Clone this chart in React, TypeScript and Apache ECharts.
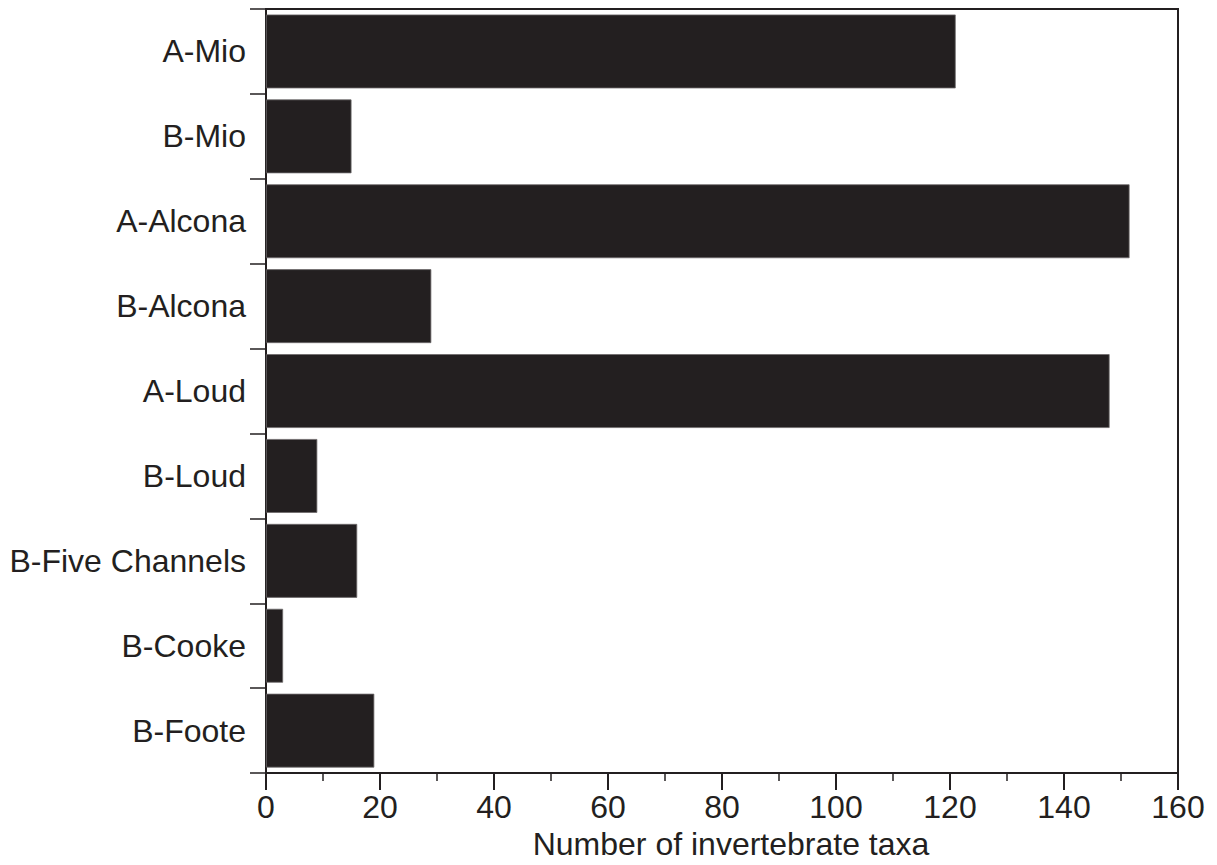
import React, { useEffect, useRef } from "react";
import * as echarts from "echarts";

const categories = [
  "A-Mio",
  "B-Mio",
  "A-Alcona",
  "B-Alcona",
  "A-Loud",
  "B-Loud",
  "B-Five Channels",
  "B-Cooke",
  "B-Foote",
];
const taxaCounts = [121, 15, 151.5, 29, 148, 9, 16, 3, 19];
const xTicks = { min: 0, max: 160, interval: 20 };
const xTitle = "Number of invertebrate taxa";

const INK = "#231f20";
const FONT = "'Liberation Sans', Arial, Helvetica, sans-serif";

export default function App() {
  const ref = useRef<HTMLDivElement>(null);
  useEffect(() => {
    if (!ref.current) return;
    const chart = echarts.init(ref.current, null, { renderer: "svg" });
    chart.setOption({
      animation: false,
      backgroundColor: "#ffffff",
      grid: {
        left: 266,
        right: 39,
        top: 9,
        bottom: 88,
        show: true,
        borderColor: INK,
        borderWidth: 2,
        containLabel: false,
      },
      xAxis: {
        type: "value",
        min: xTicks.min,
        max: xTicks.max,
        interval: xTicks.interval,
        name: xTitle,
        nameLocation: "middle",
        nameGap: 48,
        nameTextStyle: {
          color: INK,
          fontFamily: FONT,
          fontSize: 32,
          padding: [0, 0, 0, 18],
        },
        axisLine: { show: true, lineStyle: { color: INK, width: 2 } },
        axisTick: { show: true, length: 17, lineStyle: { color: INK, width: 2 } },
        minorTick: { show: true, splitNumber: 2, length: 8, lineStyle: { color: INK, width: 1.5 } },
        splitLine: { show: false },
        minorSplitLine: { show: false },
        axisLabel: { color: INK, fontFamily: FONT, fontSize: 32, margin: 18 },
      },
      yAxis: {
        type: "category",
        data: categories,
        inverse: true,
        axisLine: { show: true, lineStyle: { color: INK, width: 2 } },
        axisTick: { show: true, length: 16, lineStyle: { color: INK, width: 1.5 } },
        splitLine: { show: false },
        axisLabel: { color: INK, fontFamily: FONT, fontSize: 32, margin: 20 },
      },
      series: [
        {
          type: "bar",
          data: taxaCounts,
          barCategoryGap: "13%",
          itemStyle: { color: INK, borderColor: "#6d6a6b", borderWidth: 0.8 },
          silent: true,
        },
      ],
    });
    return () => chart.dispose();
  }, []);
  return (
    <div
      ref={ref}
      style={{ position: "absolute", left: 0, top: 0, width: 1217, height: 865 }}
    />
  );
}
